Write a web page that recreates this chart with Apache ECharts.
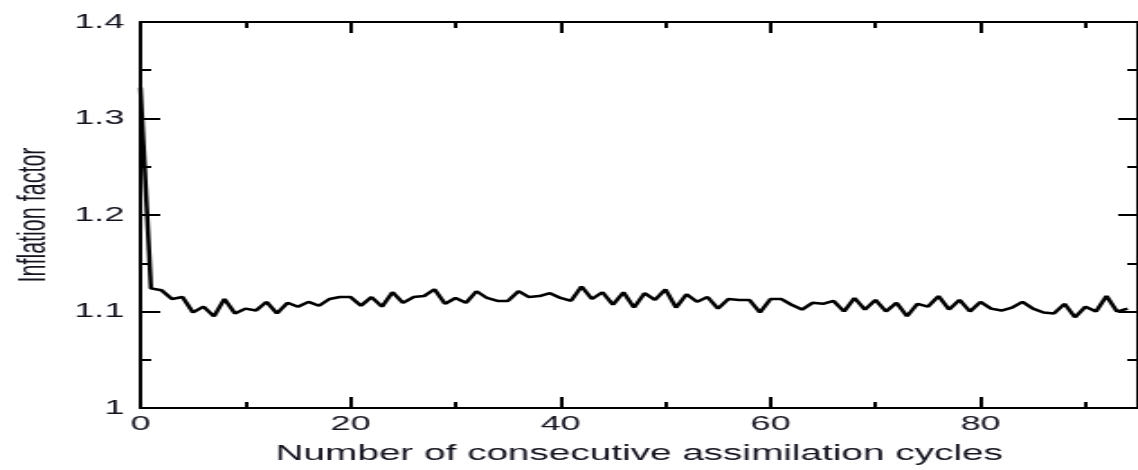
<!DOCTYPE html>
<html>
<head>
<meta charset="utf-8">
<script src="https://cdn.jsdelivr.net/npm/echarts@6/dist/echarts.min.js"></script>
<style>
  html, body { margin: 0; padding: 0; background: #fff; overflow: hidden; }
  /* the reference figure is stretched horizontally, so draw narrow and stretch */
  #container { width: 632px; height: 470px; transform: scaleX(1.8006); transform-origin: 0 0; }
</style>
</head>
<body>
<div id="container"></div>
<script>
// inflation factor per assimilation cycle
var inflation = [
  1.332, 1.124, 1.122, 1.113, 1.115, 1.099, 1.105, 1.095, 1.113, 1.098,
  1.103, 1.101, 1.110, 1.098, 1.109, 1.105, 1.110, 1.106, 1.113, 1.115,
  1.115, 1.106, 1.115, 1.105, 1.120, 1.109, 1.115, 1.116, 1.123, 1.108,
  1.114, 1.109, 1.121, 1.114, 1.111, 1.111, 1.121, 1.115, 1.116, 1.119,
  1.114, 1.111, 1.126, 1.113, 1.120, 1.107, 1.120, 1.104, 1.119, 1.112,
  1.123, 1.104, 1.118, 1.110, 1.115, 1.103, 1.113, 1.112, 1.112, 1.099,
  1.113, 1.113, 1.107, 1.102, 1.109, 1.108, 1.111, 1.100, 1.114, 1.102,
  1.112, 1.100, 1.109, 1.095, 1.108, 1.105, 1.116, 1.102, 1.112, 1.100,
  1.110, 1.103, 1.101, 1.104, 1.110, 1.103, 1.099, 1.098, 1.108, 1.094,
  1.105, 1.100, 1.116, 1.100, 1.103
];
var cycles = inflation.map(function (v, i) { return i; });
var xTicks = [0, 95, 20, 10];   // min, max, major step, minor step
var yTicks = [1, 1.4, 0.1];     // min, max, step

var dom = document.getElementById('container');
var myChart = echarts.init(dom, null, { renderer: 'canvas' });

var black = '#000';
var txt = '#141420';
var font = "'Liberation Sans', Arial, Helvetica, sans-serif";

function xAxisCfg(pos, step, len, labels) {
  return {
    type: 'value',
    position: pos,
    min: xTicks[0],
    max: xTicks[1],
    interval: step,
    splitLine: { show: false },
    axisLine: { show: len > 8, onZero: false, lineStyle: { color: black, width: 2 } },
    axisTick: { show: true, inside: true, length: len, lineStyle: { color: black, width: 2 } },
    axisLabel: {
      show: labels,
      showMaxLabel: false,
      margin: 6,
      color: txt,
      fontSize: 20,
      fontFamily: font
    }
  };
}

var xBottom = xAxisCfg('bottom', xTicks[2], 11, true);
xBottom.name = 'Number of consecutive assimilation cycles';
xBottom.nameLocation = 'middle';
xBottom.nameGap = 35;
xBottom.nameTextStyle = { color: txt, fontSize: 21.5, fontFamily: font };

function yAxisCfg(pos, labels) {
  return {
    type: 'value',
    position: pos,
    min: yTicks[0],
    max: yTicks[1],
    interval: yTicks[2],
    splitLine: { show: false },
    axisLine: { show: true, onZero: false, lineStyle: { color: black, width: 2 } },
    axisTick: { show: true, inside: true, length: 11, lineStyle: { color: black, width: 2 } },
    minorTick: { show: true, splitNumber: 2, length: 6, lineStyle: { color: black, width: 2 } },
    axisLabel: { show: labels, margin: 9, color: txt, fontSize: 20, fontFamily: font }
  };
}

var yLeft = yAxisCfg('left', true);
yLeft.name = 'Inflation factor';
yLeft.nameLocation = 'middle';
yLeft.nameGap = 48;
yLeft.nameTextStyle = { color: txt, fontSize: 21.5, fontFamily: font };

var option = {
  animation: false,
  backgroundColor: '#fff',
  grid: { left: 74, top: 22, bottom: 60, right: -5.6 },
  xAxis: [
    xBottom,
    xAxisCfg('bottom', xTicks[3], 6, false),
    xAxisCfg('top', xTicks[2], 11, false),
    xAxisCfg('top', xTicks[3], 6, false)
  ],
  yAxis: [yLeft, yAxisCfg('right', false)],
  series: [{
    type: 'line',
    xAxisIndex: 0,
    yAxisIndex: 0,
    symbol: 'none',
    lineStyle: { color: black, width: 2.5 },
    data: cycles.map(function (c, i) { return [c, inflation[i]]; })
  }]
};
myChart.setOption(option);
window.addEventListener('resize', function () {
  myChart.resize();
});
</script>
</body>
</html>
